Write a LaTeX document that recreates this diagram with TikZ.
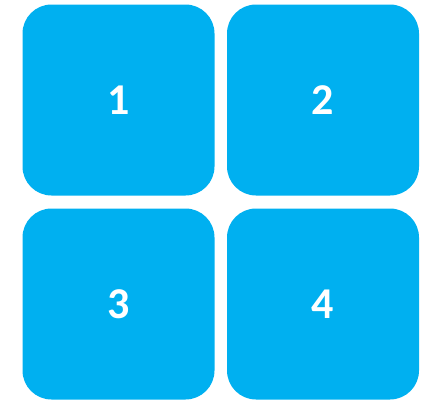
\documentclass[tikz,border=0pt]{standalone}
\usepackage{fontspec}
\setmainfont{Carlito}[BoldFont={Carlito Bold}]
\usepackage{tikz}
\usetikzlibrary{positioning}
\definecolor{tileblue}{RGB}{0, 176, 240}

\begin{document}
\begin{tikzpicture}[
    x=1pt, y=-1pt,
    tile/.style={fill=#1, draw=none, rounded corners=29pt, minimum width=192pt,
                 minimum height=191pt, inner sep=0pt, text=white,
                 font=\fontsize{44}{44}\selectfont\bfseries}
]
\useasboundingbox (0,0) rectangle (428,400);

%% ── Top row ────────────────────────────────────────────────────────────
\node[tile=tileblue] (t1) at (118.5, 100) {1};
\node[tile=tileblue] (t2) at (323, 100) {2};

%% ── Bottom row ─────────────────────────────────────────────────────────
\node[tile=tileblue] (t3) at (118.5, 304) {3};
\node[tile=tileblue] (t4) at (323, 304) {4};
\end{tikzpicture}
\end{document}
